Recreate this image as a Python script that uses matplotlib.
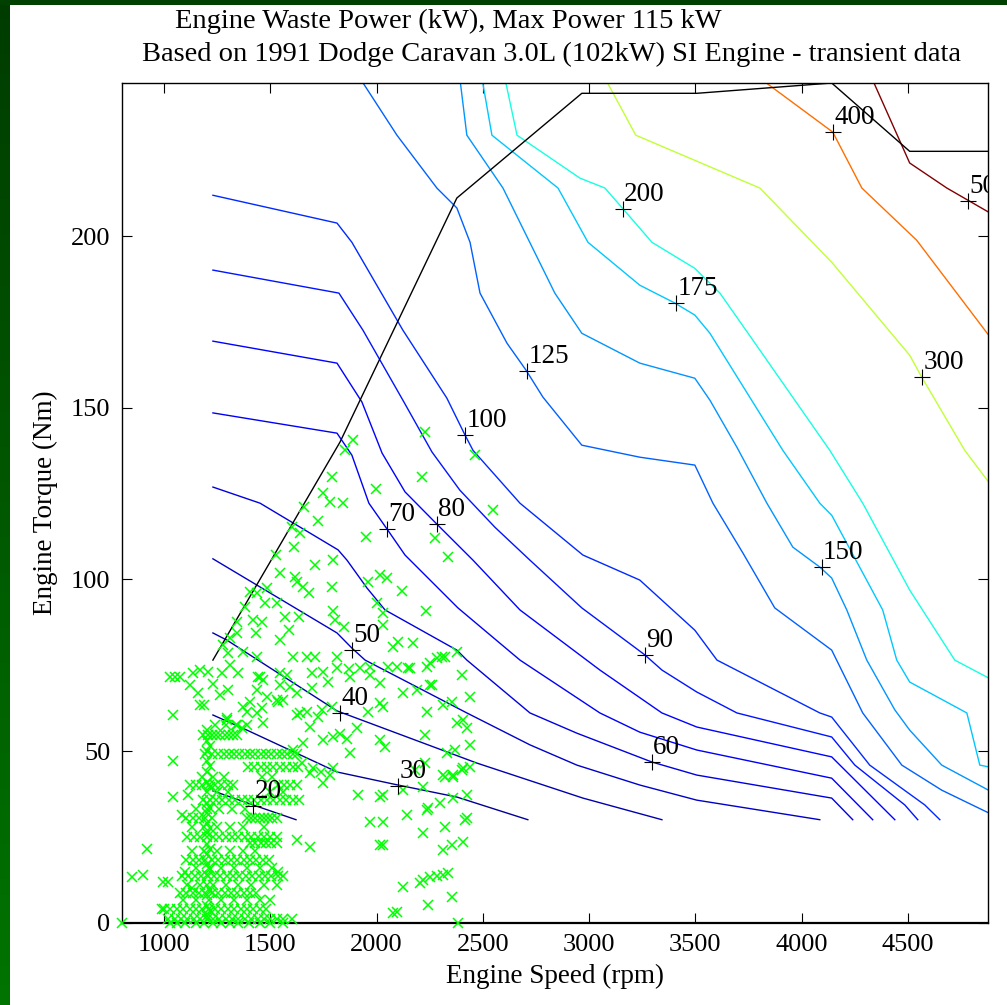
import numpy as np
import matplotlib
matplotlib.use("Agg")
import matplotlib.pyplot as plt
from matplotlib.colors import Normalize, LinearSegmentedColormap
from matplotlib.patches import Rectangle
from matplotlib.transforms import offset_copy

plt.rcParams['font.family'] = ['Liberation Serif', 'DejaVu Serif']

# ---------------- contour levels (kW) ----------------
levels = [20, 30, 40, 50, 60, 70, 80, 90, 100, 125, 150, 175, 200, 300, 400, 500]

c20_rpm = [1230, 1419, 1621]
c20_nm = [38.4, 34.3, 30.0]
c30_rpm = [1230, 1390, 1814, 2101, 2378, 2712]
c30_nm = [60.5, 56.1, 43.9, 40.1, 36.6, 30.0]
c40_rpm = [1230, 1296, 1814, 2472, 2971, 3343]
c40_nm = [84.4, 82.3, 61.7, 46.5, 36.3, 30.0]
c50_rpm = [1230, 1814, 1884, 1946, 2425, 2722, 2943, 3239, 3507, 4086]
c50_nm = [106.0, 84.4, 80.0, 76.5, 61.1, 51.8, 45.9, 40.1, 35.7, 30.0]
c60_rpm = [1230, 1452, 1819, 1861, 1955, 2040, 2378, 2425, 2722, 2943, 3296, 3507, 4142, 4241]
c60_nm = [126.9, 122.2, 108.6, 105.6, 97.5, 91.1, 79.4, 76.5, 61.1, 55.2, 46.8, 43.0, 36.3, 30.0]
c70_rpm = [1230, 1814, 1884, 1964, 2049, 2134, 2383, 2675, 3051, 3239, 3507, 4142, 4335]
c70_nm = [148.5, 142.6, 136.2, 122.2, 114.7, 107.1, 91.7, 76.5, 61.1, 55.5, 50.3, 42.1, 30.0]
c80_rpm = [1230, 1814, 1931, 2026, 2134, 2284, 2454, 2675, 3051, 3343, 3507, 4142, 4439]
c80_nm = [169.4, 163.0, 151.7, 136.8, 125.5, 116.1, 105.6, 91.1, 73.6, 61.1, 57.0, 48.3, 30.0]
c90_rpm = [1230, 1823, 1936, 2124, 2261, 2392, 2557, 2722, 2966, 3263, 3343, 3507, 3696, 4142, 4251, 4486, 4547]
c90_nm = [190.1, 183.4, 172.6, 152.2, 137.1, 126.0, 115.2, 105.6, 91.7, 78.0, 73.6, 67.2, 61.1, 54.1, 45.9, 34.3, 30.0]
c100_rpm = [1230, 1814, 1884, 2124, 2331, 2416, 2454, 2675, 2971, 3239, 3498, 3602, 4086, 4142, 4321, 4580, 4651]
c100_nm = [211.9, 203.8, 198.2, 172.6, 152.8, 142.1, 137.6, 122.2, 107.1, 99.8, 85.2, 76.5, 61.1, 59.9, 45.9, 34.3, 30.0]
c125_rpm = [1922, 2096, 2284, 2378, 2440, 2487, 2614, 2703, 2783, 2966, 3239, 3498, 3583, 3724, 3874, 4142, 4288, 4472, 4660, 4880]
c125_nm = [246.0, 229.4, 214.0, 208.2, 198.2, 183.4, 168.8, 161.0, 153.1, 139.1, 135.6, 133.3, 122.2, 107.7, 91.7, 79.4, 61.1, 45.9, 38.6, 32.0]
c150_rpm = [2392, 2425, 2595, 2839, 2966, 3239, 3498, 3569, 3696, 3837, 3959, 4086, 4142, 4213, 4307, 4439, 4509, 4660, 4880]
c150_nm = [246.0, 229.4, 214.0, 183.4, 171.7, 163.0, 158.6, 152.2, 138.5, 122.2, 109.4, 103.6, 100.4, 91.1, 76.5, 62.0, 56.1, 45.9, 38.6]
c175_rpm = [2496, 2543, 2854, 2995, 3239, 3404, 3498, 3569, 3912, 4086, 4142, 4382, 4448, 4509, 4778, 4839, 4880]
c175_nm = [246.0, 229.4, 214.0, 198.2, 185.7, 180.5, 177.0, 171.7, 137.6, 122.2, 118.7, 91.1, 76.5, 70.1, 61.1, 45.9, 45.4]
c200_rpm = [2604, 2661, 2957, 3075, 3239, 3296, 3498, 3616, 3771, 4133, 4288, 4509, 4721, 4880]
c200_nm = [246.0, 229.4, 216.9, 214.0, 202.3, 198.2, 190.6, 183.4, 169.7, 137.6, 122.2, 96.9, 76.5, 71.3]
c300_rpm = [3075, 3220, 3804, 4142, 4509, 4566, 4768, 4880]
c300_nm = [246.0, 229.4, 214.0, 192.4, 165.3, 158.9, 137.6, 128.4]
c400_rpm = [3804, 4147, 4284, 4542, 4880]
c400_nm = [246.0, 230.3, 214.0, 198.8, 171.2]
c500_rpm = [4331, 4509, 4684, 4880]
c500_nm = [246.0, 221.3, 214.0, 207.0]

# contour label positions
label_rpm = [1419, 2101, 1828, 1884, 3296, 2049, 2284, 3263, 2416, 2708, 4095, 3409, 3159, 4566, 4147, 4782]
label_nm = [34.0, 39.8, 61.1, 79.4, 46.8, 114.7, 116.1, 78.0, 142.1, 160.7, 103.6, 180.5, 207.9, 158.9, 230.3, 210.2]

# maximum torque curve
max_rpm = [1230, 1828, 2378, 2966, 3507, 4142, 4509, 4880]
max_nm = [76.5, 140.0, 211.1, 241.6, 241.6, 244.6, 224.7, 224.7]

# ---------------- transient operating points ----------------
row_torque = [54.7, 49.1, 45.4, 40.1, 35.7, 30.5, 25.0, 23.3, 18.3, 13.6, 8.7, 4.0, 1.1,
              57.5, 42.5, 38.0, 33.0, 28.0, 21.0, 16.0, 11.0, 6.5]
row_speeds = [
    [1185, 1205, 1225, 1245, 1265, 1285, 1305, 1325, 1345],
    [1195, 1225, 1255, 1280, 1305, 1330, 1355, 1380, 1405, 1430, 1455, 1480, 1505, 1530, 1555, 1580, 1605, 1625],
    [1395, 1425, 1455, 1485, 1515, 1545, 1575, 1605, 1630],
    [1120, 1150, 1180, 1210, 1240, 1270, 1300, 1325, 1535, 1565, 1595, 1625],
    [1185, 1215, 1245, 1275, 1305, 1335, 1365, 1395, 1425, 1455, 1485, 1515, 1545, 1575, 1605, 1635],
    [1105, 1135, 1165, 1195, 1225, 1390, 1410, 1430, 1450, 1470, 1490, 1510, 1530],
    [1110, 1140, 1170, 1200, 1230, 1260, 1290, 1320, 1350, 1380, 1410, 1440, 1470, 1500, 1530],
    [1405, 1430, 1455, 1480, 1505, 1530],
    [1105, 1135, 1165, 1195, 1225, 1255, 1285, 1315, 1345, 1375, 1405, 1435, 1465, 1495],
    [1085, 1115, 1145, 1175, 1205, 1235, 1265, 1295, 1325, 1355, 1385, 1415, 1445, 1475, 1505, 1535, 1560],
    [1075, 1105, 1135, 1165, 1195, 1225, 1255, 1285, 1315, 1345, 1375, 1405, 1435],
    [1000, 1030, 1060, 1090, 1120, 1150, 1180, 1210, 1240, 1270, 1300, 1330, 1360, 1390, 1420, 1450, 1480],
    [1020, 1050, 1080, 1110, 1140, 1170, 1200, 1230, 1260, 1290, 1320, 1350, 1380, 1410, 1440, 1470, 1500, 1530, 1560, 1600],
    [1240, 1290, 1340, 1390],
    [1180, 1230, 1280, 1460, 1510],
    [1250, 1300, 1500, 1560],
    [1150, 1200, 1260, 1320, 1380],
    [1130, 1190, 1250, 1310, 1370, 1470],
    [1130, 1190, 1250, 1310, 1370, 1430],
    [1150, 1210, 1270, 1330, 1390, 1450, 1510],
    [1110, 1170, 1230, 1290, 1350, 1410, 1470, 1530],
    [1090, 1150, 1210, 1270, 1330, 1390, 1450, 1500],
]
column_speed = [1200, 1215]
column_torques = [
    [2, 5, 8, 11, 14, 17, 20, 23, 26, 29, 32, 35, 38, 41, 44, 47, 50, 53, 56],
    [3.5, 9.5, 15.5, 21.5, 27.5, 33.5, 39.5, 45.5, 51.5],
]
point_rpm = [1889, 1852, 1790, 1748, 1781, 1842, 1659, 1997, 1725, 1602, 1640, 1950, 1612, 1795, 1710, 1527,
             2228, 2214, 2463, 2548, 2275, 2336, 1616, 1546, 1626, 1654, 1682, 1790, 1960, 2016, 2049, 2120,
             1485, 1438, 1475, 1532, 1405, 1381, 1795, 2002, 2233, 1569, 1635, 1804, 1847, 2030, 1343, 1419,
             1461, 1588, 1433, 1546, 2101, 2171, 2077, 1343, 1310, 1277, 1301, 1372, 1438, 1607, 1673, 1710,
             1814, 2284, 2308, 2378, 2148, 2237, 2054, 1969, 1870, 1814, 1696, 1748, 1579, 1442, 1466, 1546,
             1593, 1626, 1696, 1772, 1875, 1969, 2016, 2124, 2261, 2402, 2440, 2355, 2313, 2237, 2407, 2378,
             2016, 1960, 1908, 1743, 1790, 1725, 1673, 1626, 1560, 1536, 1485, 1405, 1390, 1466, 1296, 1343,
             1367, 1438, 1461, 2030, 1922, 2096, 2157, 2251, 2322, 2190, 2251, 2228, 2425, 2369, 2331, 2440,
             2016, 2040, 1875, 2228, 2322, 2360, 2407, 2440, 2218, 2298, 2360, 2425, 2242, 2143, 1969, 2030,
             2425, 1913, 2030, 2124, 2030, 1795, 2016, 2016, 2030, 2218, 2416, 2322, 2355, 2407, 2313, 2218,
             2251, 2284, 2313, 2336, 2124, 2204, 2242, 2355, 2077, 2096, 2383, 2313, 2402, 2181, 2360, 2237,
             800, 850, 900, 920, 995, 1020, 990, 1040, 1040, 1085, 1100, 1130, 1115, 1030, 1075, 1040,
             1135, 1170, 1207, 1120, 1160, 1265, 1275, 1170, 1190, 1230, 1300, 1310, 1050, 1350, 1372, 1296,
             1452, 1546, 1438, 1532, 1640, 1687, 1748, 1795, 1748, 1687, 1607, 1654, 1687, 1626, 1536,
             1700, 1740, 1780, 1650, 1830, 1860]
point_nm = [140.6, 137.7, 129.8, 125.1, 122.5, 122.2, 121.1, 126.3, 117.0, 115.2, 113.5, 112.3, 109.4, 105.6, 104.2, 107.1,
            142.9, 129.8, 136.2, 120.2, 112.0, 106.5, 100.7, 101.9, 99.2, 97.8, 96.0, 97.8, 99.2, 101.3, 100.4, 96.6,
            97.5, 96.0, 93.1, 93.1, 96.3, 91.9, 90.8, 93.1, 90.8, 89.0, 89.0, 88.1, 86.1, 86.7, 87.6, 88.1,
            87.6, 85.2, 84.4, 82.3, 81.8, 81.5, 80.3, 84.4, 82.9, 80.9, 78.6, 78.8, 77.4, 77.4, 77.4, 77.4,
            77.4, 77.1, 77.4, 78.8, 74.2, 74.5, 74.5, 74.5, 73.9, 74.2, 72.7, 73.0, 72.1, 71.6, 70.7, 69.2,
            68.6, 66.9, 68.4, 70.1, 71.6, 72.1, 69.8, 66.9, 69.2, 72.1, 65.8, 64.3, 63.4, 61.4, 59.0, 58.2,
            64.0, 61.4, 56.7, 62.0, 62.8, 59.9, 61.4, 60.5, 64.9, 64.3, 65.8, 64.3, 61.4, 58.2, 59.0, 57.6,
            56.7, 61.1, 62.5, 90.2, 74.2, 74.5, 74.2, 75.6, 77.4, 67.8, 69.2, 54.7, 56.7, 50.3, 49.4, 51.8,
            53.2, 51.2, 49.4, 46.5, 42.4, 42.4, 45.1, 45.4, 39.6, 34.9, 36.3, 37.2, 33.4, 31.4, 29.3, 29.3,
            30.5, 37.2, 37.2, 38.6, 62.8, 45.1, 36.6, 22.6, 22.6, 26.1, 29.9, 27.9, 22.6, 23.5, 21.2, 12.5,
            13.3, 13.6, 13.9, 14.5, 10.4, 11.6, 5.2, 7.5, 2.9, 3.1, 0.0, 43.0, 44.5, 44.5, 43.0, 32.8,
            0.0, 13.3, 13.9, 21.5, 11.9, 11.9, 4.0, 47.2, 36.6, 31.4, 14.8, 10.1, 37.2, 71.6, 71.6, 60.5,
            72.8, 73.6, 73.0, 69.2, 66.9, 66.3, 72.8, 63.4, 63.4, 69.5, 67.8, 75.0, 71.6, 72.8, 62.8, 59.6,
            71.6, 72.7, 67.8, 64.9, 61.1, 57.1, 53.2, 54.1, 40.7, 43.6, 50.3, 52.4, 22.1, 24.2, 14.8,
            45.0, 44.0, 43.0, 46.5, 55.0, 53.5]

zero_rpm = [1030, 1060, 1100, 1150, 1190, 1230, 1270, 1310, 1350, 1400, 1450, 1500, 1560]

# ---------------- figure ----------------
fig = plt.figure(figsize=(10.07, 10.05), dpi=100)
fig.patch.set_facecolor('white')

# green slide frame
strip = fig.add_axes([0, 0, 10 / 1007, 1])
grad_cmap = LinearSegmentedColormap.from_list('g', ['#003c00', '#007400'])
strip.imshow(np.linspace(0, 1, 256).reshape(-1, 1), aspect='auto', cmap=grad_cmap)
strip.axis('off')
fig.add_artist(Rectangle((0, 1 - 5 / 1005), 1, 5 / 1005, transform=fig.transFigure,
                         facecolor='#004000', edgecolor='none'))

ax = fig.add_axes([0.1207, 0.0819, 0.8601, 0.8355])
ax.set_facecolor('white')

norm = Normalize(vmin=min(levels), vmax=max(levels))
cmap = plt.get_cmap('jet')
contour_rpm = [c20_rpm, c30_rpm, c40_rpm, c50_rpm, c60_rpm, c70_rpm, c80_rpm, c90_rpm, c100_rpm,
               c125_rpm, c150_rpm, c175_rpm, c200_rpm, c300_rpm, c400_rpm, c500_rpm]
contour_nm = [c20_nm, c30_nm, c40_nm, c50_nm, c60_nm, c70_nm, c80_nm, c90_nm, c100_nm,
              c125_nm, c150_nm, c175_nm, c200_nm, c300_nm, c400_nm, c500_nm]
for lev, xs, ys in zip(levels, contour_rpm, contour_nm):
    ax.plot(xs, ys, color=cmap(norm(lev)), lw=1.0, zorder=2)

ax.plot(max_rpm, max_nm, color='black', lw=1.0, zorder=2.5)

# operating points
px, py = [], []
for t, sp in zip(row_torque, row_speeds):
    px += sp
    py += [t] * len(sp)
for s, ts in zip(column_speed, column_torques):
    px += [s] * len(ts)
    py += ts
px += point_rpm
py += point_nm
px += zero_rpm
py += [0.0] * len(zero_rpm)
ax.plot(px, py, 'x', color='#00ff00', ms=7.5, mew=1.1, zorder=3, clip_on=False)

# contour labels
ax.plot(label_rpm, label_nm, '+', color='black', ms=11, mew=0.8, zorder=5)
tr = offset_copy(ax.transData, fig=fig, x=1, y=6, units='points')
for lev, x, y in zip(levels, label_rpm, label_nm):
    ax.text(x, y, str(lev), transform=tr, fontsize=19.5, ha='left', va='baseline',
            zorder=6, clip_on=True)

ax.set_xlim(800, 4876)
ax.set_ylim(0, 244.6)
ax.set_xticks([1000, 1500, 2000, 2500, 3000, 3500, 4000, 4500])
ax.set_yticks([0, 50, 100, 150, 200])
ax.tick_params(direction='in', length=7, width=0.8, top=True, right=True,
               labelsize=19, pad=8, colors='black')
for sp in ax.spines.values():
    sp.set_linewidth(1.0)
    sp.set_color('black')
ax.spines['bottom'].set_linewidth(1.6)

ax.set_xlabel('Engine Speed (rpm)', fontsize=19.5, labelpad=6)
ax.set_ylabel('Engine Torque (Nm)', fontsize=19.5, labelpad=9)

fig.text(448 / 1007, 1 - 28 / 1005, 'Engine Waste Power (kW), Max Power 115 kW',
         fontsize=20.5, ha='center', va='baseline')
fig.text(552 / 1007, 1 - 61 / 1005,
         'Based on 1991 Dodge Caravan 3.0L (102kW) SI Engine - transient data',
         fontsize=20.5, ha='center', va='baseline')

fig.savefig('out.png', dpi=100, facecolor='white')
